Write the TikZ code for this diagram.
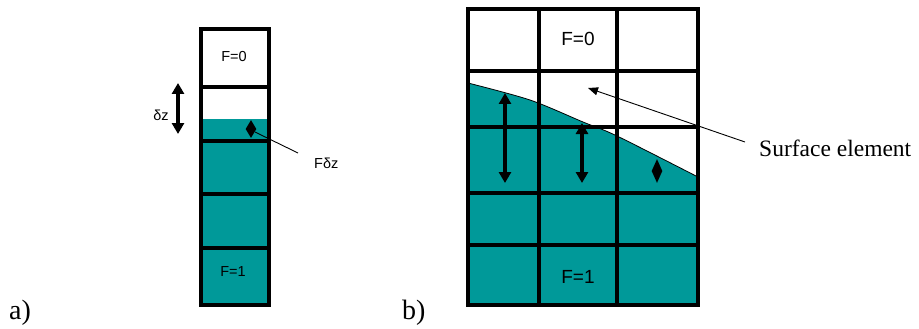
\documentclass[tikz,border=0pt]{standalone}
\usepackage{fontspec}
\setmainfont{Liberation Serif}
\newfontfamily\lsans{Liberation Sans}
\usetikzlibrary{arrows.meta}
\definecolor{water}{RGB}{0,153,153}
\begin{document}
\begin{tikzpicture}[x=1pt,y=-1pt,
  gridline/.style={line width=4pt},
  dimarrow/.style={line width=3.5pt,{Triangle[length=11pt,width=12pt]}-{Triangle[length=11pt,width=12pt]}},
  diamarrow/.style={line width=2pt,{Triangle[length=#1,width=10pt]}-{Triangle[length=#1,width=10pt]}},
  leader/.style={line width=0.9pt},
  lblsmall/.style={inner sep=0pt,font=\lsans\fontsize{14.5}{17}\selectfont},
  lblbig/.style={inner sep=0pt,font=\lsans\fontsize{19}{22}\selectfont},
  serifbig/.style={inner sep=0pt,anchor=base west,font=\fontsize{#1}{#1}\selectfont}]
\useasboundingbox (0,0) rectangle (919,329);

% ---------- panel a ----------
\fill[white] (201,29) rectangle (269,119);
\fill[water] (201,119) rectangle (269,305);
\draw[gridline] (201,29) rectangle (269,305);
\foreach \yy in {87,141,194,248} \draw[gridline] (201,\yy) -- (269,\yy);

\node[lblsmall] (f0a) at (234,57) {F=0};
\node[lblsmall] (f1a) at (233,272) {F=1};
\node[lblsmall] (dz) at (161,115) {δz};
\node[lblsmall,anchor=west] (fdz) at (314,163) {Fδz};

\coordinate (dzTop) at (178,83);
\coordinate (dzBot) at (178,134);
\draw[dimarrow] (dzTop) -- (dzBot);

\coordinate (fTop) at (251,120);
\coordinate (fBot) at (251,138);
\draw[diamarrow=9pt] (fTop) -- (fBot);
\coordinate (fLeadA) at (255,132);
\coordinate (fLeadB) at (298,153);
\draw[leader] (fLeadA) -- (fLeadB);

% ---------- panel b ----------
\fill[white] (468,9) rectangle (698,305);
\fill[water] plot[smooth] coordinates {(468,83) (530,100) (583,122) (617,136) (698,177)}
   -- (698,305) -- (468,305) -- cycle;
\draw[line width=0.8pt] plot[smooth] coordinates {(468,83) (530,100) (583,122) (617,136) (698,177)};
\draw[gridline] (468,9) rectangle (698,305);
\foreach \xx in {539,617} \draw[gridline] (\xx,9) -- (\xx,305);
\foreach \yy in {71,127,193,245} \draw[gridline] (468,\yy) -- (698,\yy);

\node[lblbig] (f0b) at (578,39) {F=0};
\node[lblbig] (f1b) at (578,277) {F=1};

\coordinate (aTop) at (505,93);
\coordinate (aBot) at (505,183);
\draw[dimarrow] (aTop) -- (aBot);
\coordinate (bTop) at (582,123);
\coordinate (bBot) at (582,183);
\draw[dimarrow] (bTop) -- (bBot);
\coordinate (cTop) at (657,159);
\coordinate (cBot) at (657,183);
\draw[diamarrow=12pt] (cTop) -- (cBot);

\node[serifbig=23.5pt] (surf) at (759,157) {Surface element};
\coordinate (sLeadEnd) at (745,142);
\coordinate (sLeadTip) at (588,88);
\draw[leader,-{Triangle[length=10pt,width=8pt]}] (sLeadEnd) -- (sLeadTip);

% ---------- captions ----------
\node[serifbig=28pt] (capa) at (9,319) {a)};
\node[serifbig=28pt] (capb) at (402,319) {b)};
\end{tikzpicture}
\end{document}
